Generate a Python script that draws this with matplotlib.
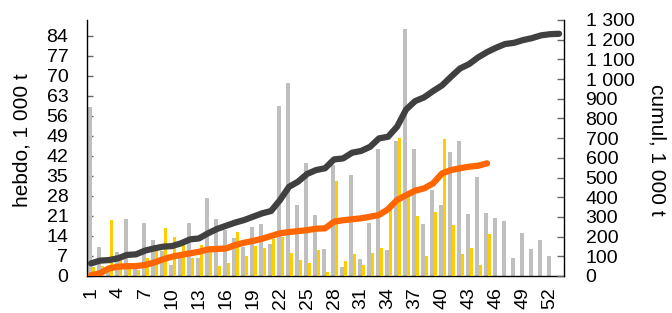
import numpy as np
import matplotlib
matplotlib.use("Agg")
import matplotlib.pyplot as plt
from matplotlib.ticker import FuncFormatter

plt.rcParams['font.family'] = ['Liberation Sans', 'DejaVu Sans']

# semaines
semaines = np.arange(1, 54)

# hebdo annee precedente (gris), 1 000 t
hebdo_prec = [59, 10, 3, 8.5, 20, 2.5, 18.6, 12.7, 8.8, 3.9,
              8, 18.5, 6.3, 27.4, 20, 16, 13.3, 10, 17.2, 18.2,
              11.3, 59.6, 67.7, 24.8, 39.6, 21.3, 9.6, 39, 3.2, 35.3,
              6, 18.7, 44.5, 9.1, 47.3, 86.3, 44.5, 18.3, 30.2, 25,
              43.3, 47.3, 21.8, 34.7, 22, 20.3, 19.3, 6.2, 15, 9.3,
              12.6, 7, 0]

# hebdo annee en cours (jaune), 1 000 t
hebdo_cour = [3, 3.5, 19.5, 6.7, 2.4, 2, 6.3, 8.8, 16.9, 13.6,
              11, 6.4, 10.8, 10.5, 3.5, 4.5, 15.3, 7.1, 10.5, 9.9,
              13, 13.8, 8, 5.6, 4.7, 9.2, 1.4, 33.3, 5.3, 7.8,
              3.8, 8.2, 9.9, 25.6, 48.2, 28, 21.1, 7, 22.4, 47.8,
              17.9, 7.7, 9.7, 4, 14.7]

# cumul annee precedente (gris fonce), 1 000 t
cumul_prec = [64, 78, 81, 90, 107, 110, 129, 140, 149, 152,
              166, 186, 191, 217, 239, 255, 271, 284, 301, 318,
              330, 386, 453, 479, 518, 538, 547, 592, 597, 626,
              635, 656, 699, 707, 758, 845, 888, 907, 939, 968,
              1012, 1054, 1076, 1110, 1137, 1159, 1178, 1184, 1198, 1208,
              1222, 1228, 1230]

# cumul annee en cours (orange), 1 000 t
cumul_cour = [4, 14, 39, 47, 50, 50, 56, 68, 85, 98,
              107, 115, 123, 135, 137, 140, 157, 169, 178, 189,
              203, 217, 223, 228, 233, 240, 242, 276, 283, 288,
              293, 301, 310, 339, 386, 410, 433, 445, 470, 521,
              538, 547, 555, 560, 572]

etiquettes_x = np.arange(1, 53, 3)
ticks_gauche = np.arange(0, 85, 7)
ticks_droite = np.arange(0, 1301, 100)

fig = plt.figure(figsize=(6.72, 3.13), dpi=100)
ax = fig.add_axes([87 / 672, 37 / 313, 477 / 672, 256 / 313])

w = 0.34
ax.bar(semaines - 0.12, hebdo_prec, width=w, color='#BFBFBF', zorder=2)
ax.bar(semaines[:len(hebdo_cour)] + 0.24, hebdo_cour, width=w, color='#FFCC00', zorder=3)

ax.set_xlim(0.55, 53.55)
ax.set_ylim(0, 89.6)
ax.set_yticks(ticks_gauche)
ax.set_xticks(etiquettes_x)
ax.set_xticklabels([str(s) for s in etiquettes_x], rotation=90)
ax.tick_params(axis='y', direction='in', length=4.5, width=1, color='#666666',
               labelsize=14, pad=13.5)
ax.tick_params(axis='x', length=0, labelsize=14, pad=8)
for s in ['top', 'right']:
    ax.spines[s].set_visible(False)
for s in ['left', 'bottom']:
    ax.spines[s].set_linewidth(1.0)

ax2 = ax.twinx()
ax2.plot(semaines, cumul_prec, color='#404040', lw=4.5, solid_capstyle='round',
         solid_joinstyle='round', zorder=4)
ax2.plot(semaines[:len(cumul_cour)], cumul_cour, color='#FF6600', lw=4.5,
         solid_capstyle='round', solid_joinstyle='round', zorder=5)
ax2.set_ylim(0, 1300)
ax2.set_yticks(ticks_droite)
ax2.yaxis.set_major_formatter(FuncFormatter(lambda v, p: f"{int(v):,}".replace(",", " ")))
ax2.tick_params(axis='y', direction='in', length=5, width=1, color='#666666',
                labelsize=14, pad=15.5)
for s in ['top', 'left', 'bottom']:
    ax2.spines[s].set_visible(False)
ax2.spines['right'].set_linewidth(1.0)

fig.text(22 / 672, 1 - 140 / 313, 'hebdo, 1 000 t', rotation=90,
         ha='center', va='center', fontsize=15)
fig.text(657 / 672, 1 - 150 / 313, 'cumul, 1 000 t', rotation=270,
         ha='center', va='center', fontsize=15)

fig.savefig('out.png', dpi=100)
